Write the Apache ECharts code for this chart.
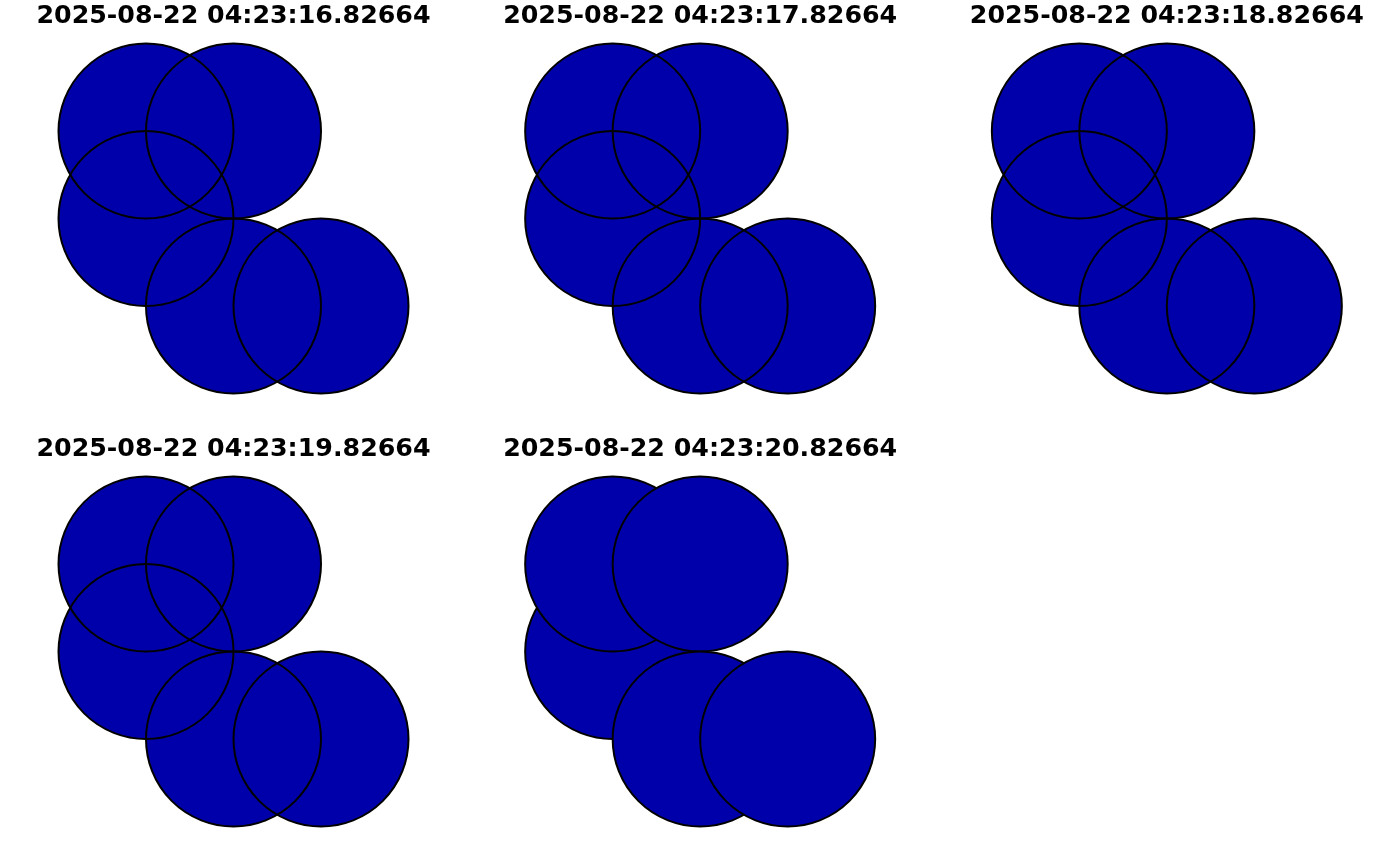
<!DOCTYPE html>
<html>
<head>
<meta charset="utf-8">
<script src="https://cdn.jsdelivr.net/npm/echarts@6/dist/echarts.min.js"></script>
<style>
  html, body { margin: 0; padding: 0; background: #fff; }
  #chart-container { width: 1400px; height: 866px; }
</style>
</head>
<body>
<div id="chart-container"></div>
<script>
// frame titles
var frameTitles = [
  "2025-08-22 04:23:16.82664",
  "2025-08-22 04:23:17.82664",
  "2025-08-22 04:23:18.82664",
  "2025-08-22 04:23:19.82664",
  "2025-08-22 04:23:20.82664",
];
// circle centres and radii (data units)
var circleX = [1, 2, 1, 2, 3];
var circleY = [3, 3, 2, 1, 1];
var circleR = [1, 1, 1, 1, 1];
// paint order of the circles for each frame
var drawOrder = [
  [0, 1, 2, 3, 4],
  [0, 1, 2, 3, 4],
  [0, 1, 2, 3, 4],
  [0, 1, 2, 3, 4],
  [2, 0, 1, 3, 4],
];
// first frames show every outline over all fills
var outlinesOnTop = [true, true, true, true, false];

var fillColor = "#0000AA";
var colStep = 466.67;
var rowStep = 433;

var dom = document.getElementById("chart-container");
var myChart = echarts.init(dom, null, { renderer: "canvas", useDirtyRect: false });

function makeRender(mode) {
  return function (params, api) {
    var c = api.coord([api.value(0), api.value(1)]);
    var s = api.size([api.value(2), api.value(2)]);
    var style = { fill: fillColor, stroke: "#000", lineWidth: 2 };
    if (mode === "fill") style = { fill: fillColor, stroke: null, lineWidth: 0 };
    if (mode === "line") style = { fill: null, stroke: "#000", lineWidth: 2 };
    return {
      type: "circle",
      shape: { cx: c[0], cy: c[1], r: s[0] },
      style: style,
    };
  };
}

var grids = [], xAxes = [], yAxes = [], series = [], texts = [];
frameTitles.forEach(function (t, i) {
  var col = i % 3, row = Math.floor(i / 3);
  grids.push({
    left: 58.5 + col * colStep,
    top: 43.5 + row * rowStep,
    width: 350,
    height: 350,
  });
  xAxes.push({ gridIndex: i, type: "value", min: 0, max: 4, show: false });
  yAxes.push({ gridIndex: i, type: "value", min: 0, max: 4, show: false });

  var data = drawOrder[i].map(function (k) {
    return [circleX[k], circleY[k], circleR[k]];
  });
  var modes = outlinesOnTop[i] ? ["fill", "line"] : ["both"];
  modes.forEach(function (m, j) {
    series.push({
      type: "custom",
      xAxisIndex: i,
      yAxisIndex: i,
      coordinateSystem: "cartesian2d",
      encode: { x: 0, y: 1 },
      z: 2 + j,
      clip: false,
      silent: true,
      renderItem: makeRender(m),
      data: data,
    });
  });

  texts.push({
    type: "text",
    x: 233.5 + col * colStep,
    y: 16 + row * rowStep,
    style: {
      text: t,
      fill: "#000",
      font: 'bold 25.3px "DejaVu Sans"',
      textAlign: "center",
      textVerticalAlign: "middle",
    },
  });
});

var option = {
  animation: false,
  backgroundColor: "#fff",
  grid: grids,
  xAxis: xAxes,
  yAxis: yAxes,
  series: series,
  graphic: texts,
};

if (option && typeof option === "object") {
  myChart.setOption(option);
}
window.addEventListener("resize", myChart.resize);
</script>
</body>
</html>
